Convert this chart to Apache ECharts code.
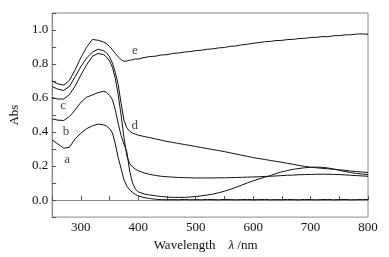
<!DOCTYPE html>
<html><head><meta charset="utf-8">
<script src="https://cdn.jsdelivr.net/npm/echarts@6/dist/echarts.min.js"></script>
<style>html,body{margin:0;padding:0;background:#fff}#c{width:389px;height:257px}</style>
</head><body><div id="c"></div>
<script>
const wavelengths = [250,260,270,280,290,300,310,320,330,340,
  345,350,355,360,365,370,375,380,385,390,395,400,
  410,420,430,440,450,460,470,480,490,500,510,520,530,540,550,560,570,580,590,600,
  610,620,630,640,650,660,670,680,690,700,710,720,730,740,750,760,770,780,790,800];

const seriesE = [0.700,0.683,0.676,0.703,0.766,0.838,0.899,0.944,0.940,0.929,
  0.919,0.903,0.884,0.862,0.842,0.826,0.816,0.818,0.823,0.825,0.830,0.829,
  0.838,0.844,0.846,0.853,0.855,0.862,0.865,0.870,0.873,0.879,0.881,0.887,0.889,0.895,0.897,0.904,0.906,0.913,0.916,0.922,
  0.926,0.931,0.933,0.938,0.939,0.944,0.945,0.950,0.951,0.956,0.957,0.961,0.961,0.966,0.967,0.971,0.972,0.976,0.977,0.975];

const seriesD = [0.667,0.652,0.645,0.668,0.725,0.785,0.835,0.870,0.887,0.878,
  0.865,0.842,0.805,0.750,0.680,0.570,0.470,0.425,0.405,0.393,0.387,0.382,
  0.374,0.367,0.360,0.352,0.345,0.339,0.333,0.327,0.321,0.315,0.309,0.303,0.297,0.291,0.285,0.278,0.271,0.264,0.257,0.250,
  0.244,0.239,0.233,0.228,0.222,0.216,0.210,0.204,0.198,0.193,0.190,0.187,0.184,0.181,0.178,0.175,0.171,0.168,0.165,0.162];

const seriesC = [0.602,0.594,0.594,0.620,0.670,0.735,0.795,0.845,0.862,0.855,
  0.840,0.818,0.780,0.715,0.620,0.500,0.370,0.260,0.215,0.195,0.182,0.172,
  0.160,0.151,0.145,0.140,0.137,0.135,0.133,0.132,0.131,0.130,0.130,0.130,0.130,0.131,0.131,0.132,0.133,0.134,0.135,0.136,
  0.137,0.139,0.140,0.142,0.144,0.146,0.147,0.149,0.150,0.151,0.152,0.152,0.152,0.151,0.150,0.148,0.146,0.144,0.142,0.140];

const seriesB = [0.477,0.470,0.468,0.490,0.530,0.575,0.605,0.618,0.632,0.640,
  0.633,0.615,0.590,0.530,0.450,0.380,0.330,0.285,0.170,0.100,0.065,0.048,
  0.036,0.030,0.025,0.021,0.018,0.016,0.016,0.016,0.018,0.021,0.025,0.030,0.035,0.043,0.052,0.063,0.075,0.088,0.101,0.113,
  0.124,0.134,0.144,0.156,0.166,0.174,0.181,0.186,0.190,0.193,0.194,0.193,0.189,0.183,0.176,0.168,0.162,0.157,0.153,0.150];

const seriesA = [0.353,0.330,0.305,0.310,0.360,0.393,0.420,0.436,0.447,0.442,
  0.435,0.420,0.395,0.330,0.250,0.185,0.120,0.082,0.060,0.045,0.033,0.025,
  0.015,0.009,0.005,0.003,0.002,0.003,0.002,0.004,0.002,0.003,0.002,0.004,0.003,0.002,0.004,0.003,0.002,0.003,0.004,0.002,
  0.003,0.004,0.002,0.003,0.002,0.004,0.003,0.002,0.004,0.003,0.002,0.003,0.004,0.002,0.003,0.004,0.002,0.003,0.004,0.003];

const curveNames = ['a','b','c','d','e'];
const labelPos = [[276,0.24],[274,0.40],[269,0.556],[394,0.44],[394,0.88]];
const xTicks = [300,400,500,600,700,800];
const yTicks = [0.0,0.2,0.4,0.6,0.8,1.0];

const allSeries = [seriesA,seriesB,seriesC,seriesD,seriesE];
const chart = echarts.init(document.getElementById('c'), null, {renderer:'canvas'});
const serif = '"Liberation Serif","Times New Roman",serif';
const lineSeries = allSeries.map((s,i)=>({
  type:'line', name:curveNames[i], showSymbol:false, symbol:'none',
  data: wavelengths.map((w,j)=>[w,s[j]]),
  lineStyle:{color:'#111', width:1}, silent:true, animation:false
}));
lineSeries.push({
  type:'scatter', symbolSize:0, silent:true, animation:false,
  data: labelPos.map((p,i)=>({value:p, name:curveNames[i]})),
  label:{show:true, position:'inside', formatter:p=>p.name, color:'#111', fontFamily:serif, fontSize:13}
});
chart.setOption({
  animation:false,
  grid:{left:52, right:21, top:13, bottom:35, show:true, borderColor:'#888', borderWidth:1},
  xAxis:{type:'value', min:250, max:800, interval:50,
    name:'Wavelength    {i|λ} /nm', nameLocation:'middle', nameGap:21,
    nameTextStyle:{fontFamily:serif, fontSize:13, color:'#111', padding:[0,9,0,0],
      rich:{i:{fontFamily:serif, fontStyle:'italic', fontSize:13, color:'#111'}}},
    axisLine:{lineStyle:{color:'#888', width:1}},
    axisTick:{inside:true, length:4, lineStyle:{color:'#555'}},
    axisLabel:{margin:4, fontFamily:serif, fontSize:13, color:'#111',
      formatter:v=> xTicks.indexOf(Math.round(v))>=0 ? String(Math.round(v)) : ''},
    splitLine:{show:false}},
  yAxis:{type:'value', min:-0.1, max:1.1, interval:0.1,
    name:'Abs', nameLocation:'middle', nameGap:31, nameRotate:90,
    nameTextStyle:{fontFamily:serif, fontSize:13, color:'#111'},
    axisLine:{show:true, lineStyle:{color:'#888', width:1}},
    axisTick:{show:true, inside:true, length:4, lineStyle:{color:'#555'}},
    axisLabel:{margin:4, fontFamily:serif, fontSize:13, color:'#111',
      formatter:v=>{const k=Math.round(v*10)/10; return yTicks.some(t=>Math.abs(t-k)<1e-6)? k.toFixed(1):'';}},
    splitLine:{show:false}},
  series: lineSeries
});
</script></body></html>
